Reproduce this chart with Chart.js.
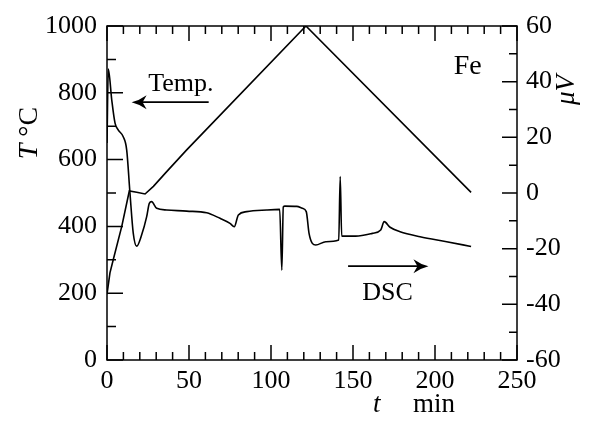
<!DOCTYPE html>
<html>
<head>
<meta charset="utf-8">
<script src="https://cdn.jsdelivr.net/npm/chart.js@4/dist/chart.umd.min.js"></script>
<style>
  body { margin: 0; background: #fff; }
  #caixa { width: 591px; height: 427px; }
</style>
</head>
<body>
<div id="caixa"><canvas id="grafico"></canvas></div>
<script>
// Temperatura (°C) em função do tempo (min)
const tempoTemp = [0, 1.8, 3.8, 9, 13.6, 18.1, 23.2, 28.3, 36.4, 48.6, 121.3, 222];
const temperatura = [197, 261, 300, 400, 506, 502, 497, 520, 564, 629, 1000, 502];

// Sinal DSC (μV) em função do tempo (min)
const tempoDSC = [0, 0.8, 2.9, 4.9, 6.9, 9.9, 12, 14, 16, 18.1, 21.1, 24.2, 25.8, 27.2, 30.3,
  36.4, 48.6, 60.8, 68.9, 75, 77.6, 80.1, 85.2, 97.4, 105.3, 106.6, 107.5, 108.5, 115.7,
  119.1, 121.5, 123.2, 125.2, 127.3, 133.4, 141.3, 142.2, 143.1, 151.6, 161.8, 166.9,
  169, 172.6, 178.7, 190.9, 207.1, 222];
const sinalDSC = [18, 44.5, 33.4, 25.1, 22.6, 20.2, 15.5, 0, -14.4, -19.1, -15.1, -8.5, -3.7, -3.1, -5.5,
  -6.1, -6.5, -7.1, -9.1, -10.9, -12.1, -7.9, -6.7, -6.1, -5.9, -27.7, -5, -4.7, -4.8,
  -5.5, -6.7, -14.5, -18.1, -18.7, -17.5, -16.9, 5.9, -15.5, -15.5, -14.5, -13.3,
  -10.3, -12.3, -13.9, -15.7, -17.5, -19.2];

// Rótulos dos eixos
const ticksX = [0, 50, 100, 150, 200, 250];
const ticksT = [0, 200, 400, 600, 800, 1000];
const ticksUV = [-60, -40, -20, 0, 20, 40, 60];

const fonte = '"Liberation Serif", "DejaVu Serif", serif';

function pontos(xs, ys) {
  return xs.map((x, i) => ({ x: x, y: ys[i] }));
}

// Plugin: moldura, marcas internas dos eixos, títulos e anotações
const desenhoExtra = {
  id: 'desenhoExtra',
  afterDraw(chart) {
    const ctx = chart.ctx;
    const a = chart.chartArea;
    const sx = chart.scales.x, sy = chart.scales.y, sy2 = chart.scales.y2;
    ctx.save();
    ctx.strokeStyle = '#000';
    ctx.fillStyle = '#000';
    ctx.lineWidth = 1.5;
    ctx.strokeRect(a.left, a.top, a.right - a.left, a.bottom - a.top);

    ctx.beginPath();
    // eixo x: menores a cada 10, maiores a cada 50 (em baixo e em cima)
    for (let v = 0; v <= 250; v += 10) {
      const px = sx.getPixelForValue(v);
      const len = v % 50 === 0 ? 15 : 8;
      ctx.moveTo(px, a.bottom); ctx.lineTo(px, a.bottom - len);
      ctx.moveTo(px, a.top); ctx.lineTo(px, a.top + len);
    }
    // eixo esquerdo: menores a cada 100, maiores a cada 200
    for (let v = 0; v <= 1000; v += 100) {
      const py = sy.getPixelForValue(v);
      const len = v % 200 === 0 ? 16 : 9;
      ctx.moveTo(a.left, py); ctx.lineTo(a.left + len, py);
    }
    // eixo direito: menores a cada 10, maiores a cada 20
    for (let v = -60; v <= 60; v += 10) {
      const py = sy2.getPixelForValue(v);
      const len = v % 20 === 0 ? 15 : 8;
      ctx.moveTo(a.right, py); ctx.lineTo(a.right - len, py);
    }
    ctx.stroke();

    // título do eixo esquerdo: T °C
    ctx.save();
    ctx.translate(30, 133);
    ctx.rotate(-Math.PI / 2);
    ctx.textBaseline = 'middle';
    ctx.font = 'italic 28px ' + fonte;
    const wT = ctx.measureText('T ').width;
    ctx.font = '28px ' + fonte;
    const wC = ctx.measureText('°C').width;
    let x0 = -(wT + wC) / 2;
    ctx.textAlign = 'left';
    ctx.font = 'italic 28px ' + fonte;
    ctx.fillText('T ', x0, 0);
    ctx.font = '28px ' + fonte;
    ctx.fillText('°C', x0 + wT, 0);
    ctx.restore();

    // título do eixo direito: μV
    ctx.save();
    ctx.translate(567, 90);
    ctx.rotate(-Math.PI / 2);
    ctx.textAlign = 'center';
    ctx.textBaseline = 'middle';
    ctx.font = 'italic 27px ' + fonte;
    ctx.fillText('μV', 0, 0);
    ctx.restore();

    // título do eixo x: t   min
    ctx.textBaseline = 'middle';
    ctx.textAlign = 'left';
    ctx.font = 'italic 27px ' + fonte;
    ctx.fillText('t', 373, 405);
    ctx.font = '27px ' + fonte;
    ctx.fillText('min', 413, 405);

    // anotações
    ctx.textAlign = 'center';
    ctx.font = '26px ' + fonte;
    ctx.fillText('Temp.', sx.getPixelForValue(45), sy.getPixelForValue(825));
    ctx.fillText('DSC', sx.getPixelForValue(171), sy.getPixelForValue(200));
    ctx.font = '28px ' + fonte;
    ctx.fillText('Fe', sx.getPixelForValue(220), sy.getPixelForValue(877));

    function seta(t1, t2, T) {
      const xa = sx.getPixelForValue(t1), xb = sx.getPixelForValue(t2), py = sy.getPixelForValue(T);
      const dir = Math.sign(xb - xa);
      ctx.beginPath();
      ctx.lineWidth = 1.8;
      ctx.moveTo(xa, py); ctx.lineTo(xb - dir * 4, py);
      ctx.stroke();
      ctx.beginPath();
      ctx.moveTo(xb, py);
      ctx.quadraticCurveTo(xb - dir * 8, py - 2, xb - dir * 15, py - 7);
      ctx.lineTo(xb - dir * 11, py);
      ctx.lineTo(xb - dir * 15, py + 7);
      ctx.quadraticCurveTo(xb - dir * 8, py + 2, xb, py);
      ctx.fill();
    }
    seta(62, 15, 772);
    seta(147, 196, 281);
    ctx.restore();
  }
};

const semVirgula = v => String(v);

const ctx = document.getElementById('grafico').getContext('2d');
new Chart(ctx, {
  type: 'line',
  data: {
    datasets: [
      {
        label: 'Temp.',
        data: pontos(tempoTemp, temperatura),
        yAxisID: 'y',
        borderColor: '#000',
        borderWidth: 1.6,
        pointRadius: 0,
        tension: 0,
        fill: false
      },
      {
        label: 'DSC',
        data: pontos(tempoDSC, sinalDSC),
        yAxisID: 'y2',
        borderColor: '#000',
        borderWidth: 1.6,
        pointRadius: 0,
        cubicInterpolationMode: 'monotone',
        fill: false
      }
    ]
  },
  options: {
    responsive: true,
    maintainAspectRatio: false,
    animation: false,
    layout: { padding: { top: 26, left: 0, right: 0, bottom: 0 } },
    plugins: {
      legend: { display: false },
      tooltip: { enabled: false }
    },
    scales: {
      x: {
        type: 'linear',
        min: 0, max: 250,
        border: { display: false },
        grid: { display: false, drawTicks: false },
        afterBuildTicks: s => { s.ticks = ticksX.map(v => ({ value: v })); },
        afterFit: s => { s.height = 67; },
        ticks: { color: '#000', padding: 6, maxRotation: 0, callback: semVirgula, font: { family: fonte, size: 26 } }
      },
      y: {
        position: 'left',
        min: 0, max: 1000,
        border: { display: false },
        grid: { display: false, drawTicks: false },
        afterBuildTicks: s => { s.ticks = ticksT.map(v => ({ value: v })); },
        afterFit: s => { s.width = 107; },
        ticks: { color: '#000', padding: 10, callback: semVirgula, font: { family: fonte, size: 26 } }
      },
      y2: {
        position: 'right',
        min: -60, max: 60,
        border: { display: false },
        grid: { display: false, drawTicks: false },
        afterBuildTicks: s => { s.ticks = ticksUV.map(v => ({ value: v })); },
        afterFit: s => { s.width = 74; },
        ticks: { color: '#000', padding: 9, callback: semVirgula, font: { family: fonte, size: 26 } }
      }
    }
  },
  plugins: [desenhoExtra]
});
</script>
</body>
</html>
